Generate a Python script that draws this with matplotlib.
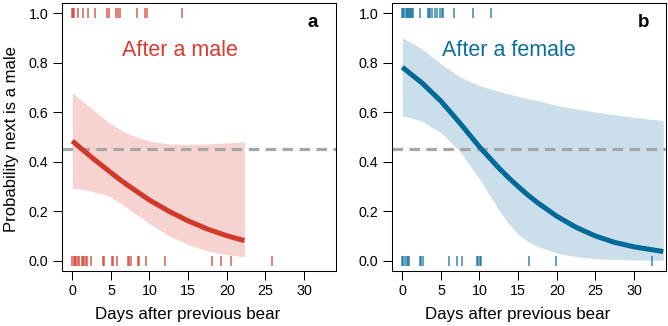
import numpy as np
import matplotlib
matplotlib.use("Agg")
import matplotlib.pyplot as plt

plt.rcParams['font.family'] = ['Liberation Sans', 'DejaVu Sans']

# ---- data ----
# Panel a: after a male
male_days = [0, 1.25, 2.5, 3.75, 5, 6.25, 7.5, 10, 12.5, 15, 17.5, 20, 22.3]
male_fit = [0.484, 0.451, 0.418, 0.387, 0.356, 0.326, 0.298, 0.245, 0.200, 0.161,
            0.128, 0.101, 0.081]
male_upper = [0.679, 0.646, 0.615, 0.583, 0.553, 0.529, 0.510, 0.483, 0.472, 0.470,
              0.472, 0.476, 0.480]
male_lower = [0.293, 0.289, 0.281, 0.271, 0.257, 0.232, 0.204, 0.150, 0.101, 0.065,
              0.040, 0.024, 0.016]
male_next_male = [0.0, 0.13, 0.26, 0.78, 1.38, 1.99, 3.0, 4.54, 4.71, 5.66, 5.87,
                  6.17, 8.38, 9.4, 9.67, 14.2]
male_next_female = [0.0, 0.18, 0.35, 0.52, 0.7, 0.87, 1.3, 1.43, 1.56, 1.78, 1.9,
                    2.42, 3.93, 4.06, 5.1, 5.27, 5.79, 7.17, 7.34, 7.6, 8.47, 8.6,
                    9.59, 12.05, 18.14, 19.26, 20.6, 25.9]

# Panel b: after a female
female_days = [0, 2.5, 5, 7.5, 10, 12.5, 13.75, 15, 16.25, 17.5, 20, 22.5, 25, 27.5,
               30, 33.8]
female_fit = [0.782, 0.720, 0.645, 0.555, 0.460, 0.375, 0.336, 0.300, 0.266, 0.235,
              0.180, 0.135, 0.100, 0.074, 0.056, 0.037]
female_upper = [0.901, 0.857, 0.796, 0.742, 0.708, 0.684, 0.674, 0.664, 0.655, 0.647,
                0.628, 0.614, 0.601, 0.590, 0.580, 0.566]
female_lower = [0.586, 0.565, 0.518, 0.440, 0.330, 0.205, 0.150, 0.107, 0.078, 0.058,
                0.031, 0.016, 0.008, 0.005, 0.003, 0.002]
female_next_male = [0.0, 0.13, 0.26, 0.43, 0.56, 0.69, 0.87, 1.0, 1.13, 1.3, 1.43,
                    2.29, 3.28, 3.41, 3.59, 3.89, 4.19, 4.54, 4.93, 5.14, 5.31,
                    6.7, 9.2, 11.5]
female_next_female = [0.0, 0.13, 0.3, 0.56, 0.74, 0.87, 2.33, 2.47, 2.72, 6.05, 7.08,
                      7.73, 9.63, 9.8, 10.06, 10.24, 16.4, 19.9, 32.4]

reference_p = 0.45
x_ticks = [0, 5, 10, 15, 20, 25, 30]
y_ticks = [0.0, 0.2, 0.4, 0.6, 0.8, 1.0]
y_ticklabels = ["0.0", "0.2", "0.4", "0.6", "0.8", "1.0"]

panels = [
    dict(days=male_days, fit=male_fit, up=male_upper, lo=male_lower,
         top=male_next_male, bot=male_next_female, title="After a male",
         letter="a", line="#D1392B", fill="#F6D3D0", rug="#D4392C",
         tcol="#DA3A2C", tx=6.4, lx=30.5),
    dict(days=female_days, fit=female_fit, up=female_upper, lo=female_lower,
         top=female_next_male, bot=female_next_female, title="After a female",
         letter="b", line="#006A98", fill="#CADFEA", rug="#0B6E9F",
         tcol="#0A6D9C", tx=5.1, lx=30.5),
]

W, H = 668, 326
fig = plt.figure(figsize=(W / 100, H / 100), dpi=100)

ax_px = [(62, 335.6), (392, 665.6)]
y_top, y_bot = 3.4, 270.6

for i, (p, (x0, x1)) in enumerate(zip(panels, ax_px)):
    ax = fig.add_axes([x0 / W, 1 - y_bot / H, (x1 - x0) / W, (y_bot - y_top) / H])
    ax.set_xlim(-1.33, 34.1)
    ax.set_ylim(-0.04, 1.04)
    ax.fill_between(p["days"], p["lo"], p["up"], color=p["fill"], lw=0, zorder=1)
    ax.axhline(reference_p, color="#A6A6A6", lw=2.3, dashes=(3.3, 2.0), zorder=2)
    ax.plot(p["days"], p["fit"], color=p["line"], lw=3.6, solid_capstyle="butt",
            solid_joinstyle="round", zorder=3)
    ax.plot(p["top"], np.ones(len(p["top"])), ls="none", marker="|", ms=7.5, mew=1.2,
            color=p["rug"], alpha=0.75, zorder=4)
    ax.plot(p["bot"], np.zeros(len(p["bot"])), ls="none", marker="|", ms=7.5, mew=1.2,
            color=p["rug"], alpha=0.75, zorder=4)
    ax.text(p["tx"], 0.827, p["title"], color=p["tcol"], fontsize=15.5,
            ha="left", va="baseline")
    ax.text(p["lx"], 0.945, p["letter"], color="black", fontsize=13.5,
            fontweight="bold", ha="left", va="baseline")

    ax.set_xticks(x_ticks)
    ax.set_xticklabels([str(t) for t in x_ticks])
    ax.set_yticks(y_ticks)
    ax.set_yticklabels(y_ticklabels)
    ax.tick_params(direction="out", length=6.5, width=0.75, labelsize=10.3,
                   pad=3.2, colors="black")
    for s in ax.spines.values():
        s.set_linewidth(0.75)
    ax.text(15, -0.04 - (319 - 270.6) / 247.4, "Days after previous bear",
            fontsize=12.2, ha="center", va="baseline", transform=ax.transData,
            clip_on=False)
    if i == 0:
        fig.text(12 / W, 1 - 139 / H, "Probability next is a male", rotation=90,
                 fontsize=12, ha="center", va="center")

fig.savefig("out.png", dpi=100)
